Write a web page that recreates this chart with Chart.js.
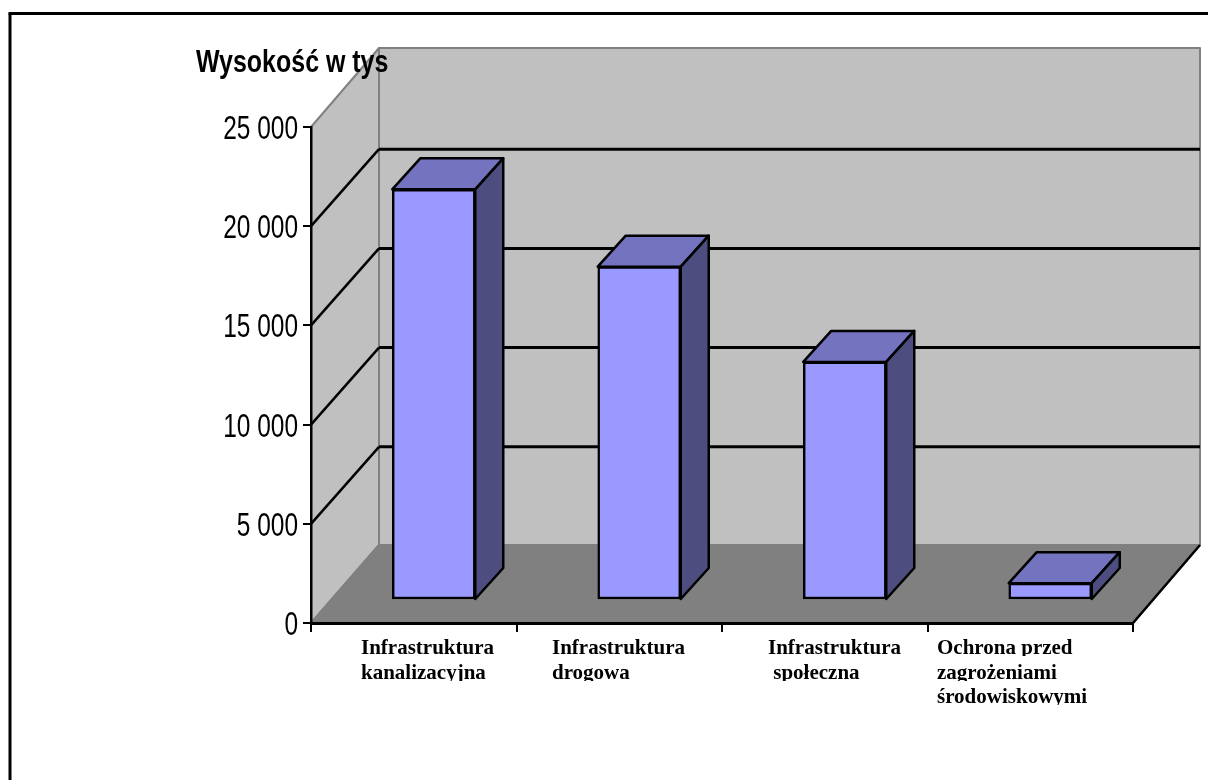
<!DOCTYPE html>
<html>
<head>
<meta charset="utf-8">
<title>Wysokość w tys</title>
<style>
  html, body { margin: 0; padding: 0; background: #fff; overflow: hidden; }
  canvas { display: block; }
</style>
<script src="https://cdn.jsdelivr.net/npm/chart.js@4"></script>
</head>
<body>
<canvas id="wykres" width="1208" height="780"></canvas>
<script>
// dane
const categories = [
  ["Infrastruktura", "kanalizacyjna"],
  ["Infrastruktura", "drogowa"],
  ["Infrastruktura", " społeczna"],
  ["Ochrona przed", "zagrożeniami", "środowiskowymi"],
];
const values = [20700, 16800, 12000, 850];
const tickValues = [0, 5000, 10000, 15000, 20000, 25000];
const axisTitle = "Wysokość w tys";

// wygląd 3D
const depthX = 68, depthY = 78;   // głębokość ścian
const barDepthX = 28, barDepthY = 31;
const shiftX = 20, shiftY = 23;   // słupki stoją w środku podłogi
const labelLeft = [361, 552, 768, 937];
const labelBaseline = [654, 679, 703];

function poly(ctx, pts, fill, stroke, lw) {
  ctx.beginPath();
  pts.forEach((p, i) => (i ? ctx.lineTo(p[0], p[1]) : ctx.moveTo(p[0], p[1])));
  ctx.closePath();
  if (fill) { ctx.fillStyle = fill; ctx.fill(); }
  if (stroke) { ctx.strokeStyle = stroke; ctx.lineWidth = lw; ctx.lineJoin = "round"; ctx.stroke(); }
}

function line(ctx, x1, y1, x2, y2, color, lw) {
  ctx.beginPath();
  ctx.moveTo(x1, y1);
  ctx.lineTo(x2, y2);
  ctx.strokeStyle = color;
  ctx.lineWidth = lw;
  ctx.stroke();
}

// brak czcionki "Narrow", więc tekst jest ściśnięty w poziomie
function narrowText(ctx, txt, x, y, scaleX, align) {
  ctx.save();
  ctx.translate(x, y);
  ctx.scale(scaleX, 1);
  ctx.textAlign = align;
  ctx.fillText(txt, 0, 0);
  ctx.restore();
}

const walls = {
  id: "walls",
  beforeDraw(chart) {
    const ctx = chart.ctx;
    const a = chart.chartArea;
    const y = chart.scales.y;
    ctx.save();
    // ramka (widać tylko lewą i górną krawędź)
    ctx.fillStyle = "#fff";
    ctx.fillRect(0, 0, chart.width, chart.height);
    line(ctx, 10, 780, 10, 13.5, "#000", 3);
    line(ctx, 8.5, 13.5, 1208, 13.5, "#000", 3);

    const bx = a.left + depthX, bt = a.top - depthY - 1, bb = a.bottom - depthY, br = a.right + depthX - 1;
    poly(ctx, [[bx, bt], [br, bt], [br, bb], [bx, bb]], "#c0c0c0", "#808080", 2);
    poly(ctx, [[a.left, a.top], [bx, bt], [bx, bb], [a.left, a.bottom]], "#c0c0c0", "#808080", 2);
    poly(ctx, [[a.left, a.bottom], [bx, bb], [br, bb], [a.right, a.bottom]], "#808080", "#808080", 2);
    line(ctx, a.right, a.bottom, br, bb, "#000", 2.5);

    // linie siatki na tylnej i lewej ścianie
    tickValues.forEach((v) => {
      if (v === 0 || v === 25000) return;
      const py = y.getPixelForValue(v);
      line(ctx, a.left, py, bx, py - depthY + 1, "#000", 2.5);
      line(ctx, bx, py - depthY + 1, br, py - depthY + 1, "#000", 3);
    });
    ctx.restore();
  },
  beforeDatasetsDraw(chart) {
    const ctx = chart.ctx;
    ctx.save();
    ctx.translate(shiftX, shiftY * -1);
    chart.getDatasetMeta(0).data.forEach((bar) => {
      const l = bar.x - bar.width / 2, r = bar.x + bar.width / 2;
      poly(ctx, [[l, bar.y], [l + barDepthX, bar.y - barDepthY], [r + barDepthX, bar.y - barDepthY], [r, bar.y]], "#7373bf", "#000", 2.5);
      poly(ctx, [[r, bar.y], [r + barDepthX, bar.y - barDepthY], [r + barDepthX, bar.base - barDepthY], [r, bar.base]], "#4d4d80", "#000", 2.5);
    });
  },
  afterDatasetsDraw(chart) {
    chart.ctx.restore();
  },
  afterDraw(chart) {
    const ctx = chart.ctx;
    const y = chart.scales.y;
    ctx.save();
    ctx.fillStyle = "#000";
    // tytuł osi
    ctx.textBaseline = "alphabetic";
    ctx.font = 'bold 32px "Liberation Sans"';
    narrowText(ctx, axisTitle, 196, 72, 0.78, "left");
    // etykiety osi Y
    ctx.font = '34px "Liberation Sans"';
    y.ticks.forEach((t, i) => {
      narrowText(ctx, t.label, 298, y.getPixelForTick(i) + 12, 0.72, "right");
    });
    // etykiety kategorii, dolne wydłużenia liter są ucięte jak w oryginale
    ctx.font = 'bold 21px "Liberation Serif"';
    ctx.textAlign = "left";
    categories.forEach((lines, i) => {
      lines.forEach((txt, j) => {
        ctx.save();
        ctx.beginPath();
        ctx.rect(labelLeft[i] - 5, labelBaseline[j] - 22, 220, 24);
        ctx.clip();
        ctx.fillText(txt, labelLeft[i], labelBaseline[j]);
        ctx.restore();
      });
    });
    ctx.restore();
  },
};

new Chart(document.getElementById("wykres"), {
  type: "bar",
  data: {
    labels: categories,
    datasets: [{
      data: values,
      backgroundColor: "#9999ff",
      borderColor: "#000",
      borderWidth: 2.5,
      borderSkipped: false,
      barThickness: 83,
      clip: false,
    }],
  },
  plugins: [walls],
  options: {
    responsive: false,
    animation: false,
    devicePixelRatio: 1,
    layout: { padding: { left: 0, top: 127, right: 75, bottom: 157 } },
    plugins: { legend: { display: false }, title: { display: false }, tooltip: { enabled: false } },
    scales: {
      x: {
        offset: true,
        afterFit: (s) => { s.height = 0; },
        grid: { color: "#000", lineWidth: 2, drawOnChartArea: false, tickLength: 9, offset: true },
        border: { color: "#000", width: 3 },
        ticks: { display: false },
      },
      y: {
        min: 0,
        max: 25000,
        afterFit: (s) => { s.width = 311; },
        afterBuildTicks: (s) => { s.ticks = tickValues.map((v) => ({ value: v })); },
        grid: { color: "#000", lineWidth: 2, drawOnChartArea: false, tickLength: 8 },
        border: { color: "#000", width: 2.5 },
        ticks: {
          display: false,
          callback: (v) => String(v).replace(/\B(?=(\d{3})+$)/g, " "),
        },
      },
    },
  },
});
</script>
</body>
</html>
